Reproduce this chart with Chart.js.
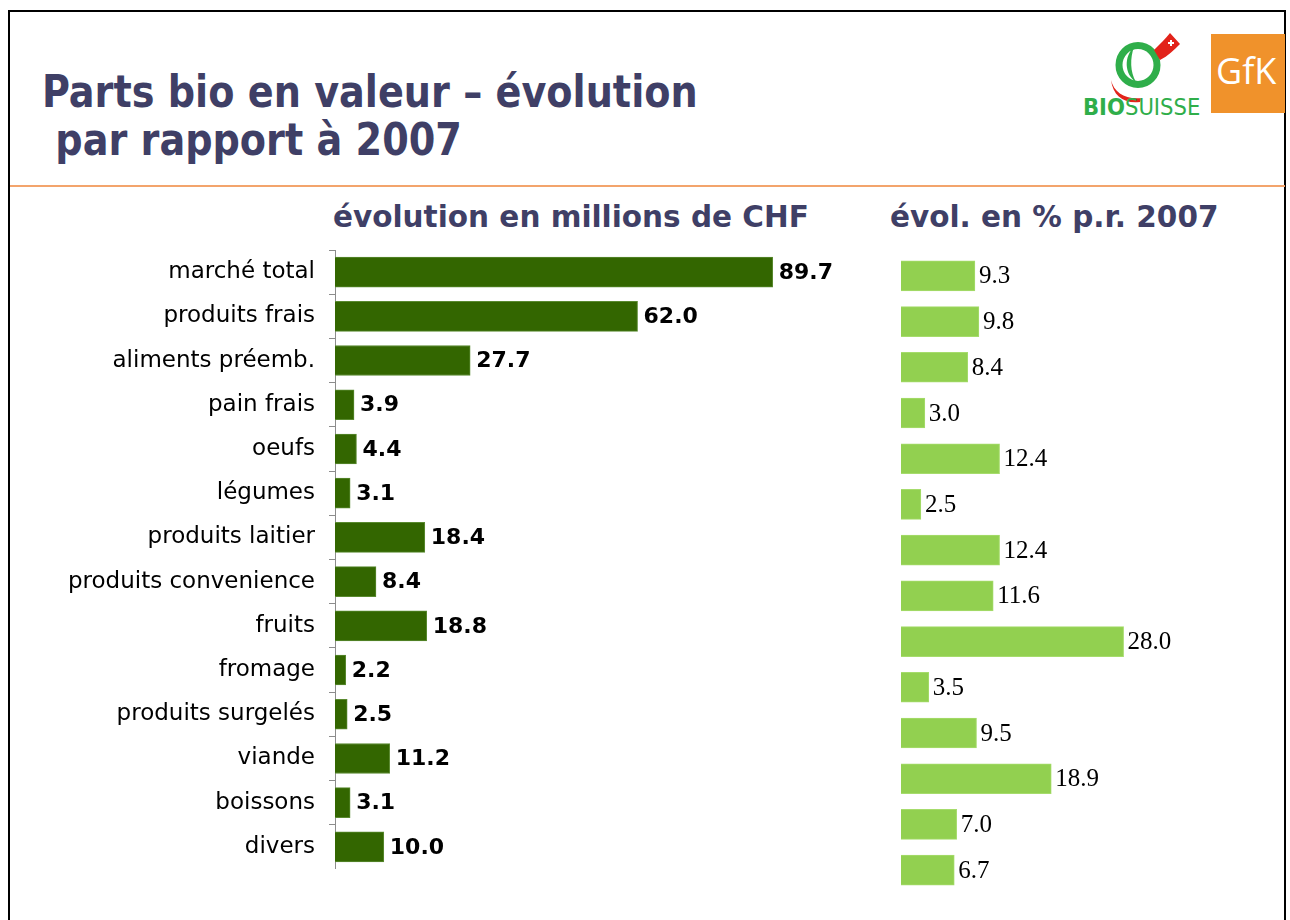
<!DOCTYPE html>
<html>
<head>
<meta charset="utf-8">
<script src="https://cdn.jsdelivr.net/npm/chart.js@4.4.0/dist/chart.umd.min.js"></script>
<style>
  body { margin: 0; background: #fff; }
  #page { position: relative; width: 1290px; height: 920px; overflow: hidden; background: #fff; }
  #frame { position: absolute; left: 8px; top: 10px; width: 1278px; height: 940px;
    border: 2px solid #000; box-sizing: border-box; }
  #rule { position: absolute; left: 10px; top: 185px; width: 1275px; height: 2px; background: #f3a46c; }
  .title { position: absolute; font-family: "DejaVu Sans"; font-weight: bold;
    color: #3f3f66; white-space: pre; line-height: 1; }
  .big { font-family: "DejaVu Sans Condensed", "DejaVu Sans"; font-size: 44px;
    transform: scaleX(0.965); transform-origin: 0 0; }
  .sub { font-size: 29.5px; }
  #gfk { position: absolute; left: 1211px; top: 34px; width: 74px; height: 79px; background: #f0922b;
    color: #fff; font-family: "Open Sans"; font-size: 36px; line-height: 1; }
  #gfk span { position: absolute; left: 5px; top: 19px; }
  #bio { position: absolute; left: 1080px; top: 30px; }
  canvas { position: absolute; }
</style>
</head>
<body>
<div id="page">
  <div id="frame"></div>
  <div class="title big" style="left:42px; top:70px;">Parts bio en valeur – évolution</div>
  <div class="title big" style="left:42px; top:118px;"> par rapport à 2007</div>
  <div id="rule"></div>

  <svg id="bio" width="125" height="92" viewBox="0 0 125 92">
    <path d="M31 50 C34 63 46 70 62 68 L60 72 C44 74 33 66 31 50 Z" fill="#e2231a"/>
    <ellipse cx="58" cy="35" rx="19" ry="19.5" fill="none" stroke="#2fae4a" stroke-width="7"/>
    <path d="M54 17 C44 26 44 44 56 52 C50 42 50 28 54 17 Z" fill="#2fae4a"/>
    <path d="M74 20 C80 14 86 8 90 3 L100 14 C94 20 88 26 80 30 Z" fill="#e2231a"/>
    <path d="M88 13 h6 M91 10 v6" stroke="#fff" stroke-width="2"/>
    <text x="3" y="85" font-family="DejaVu Sans Condensed" font-size="23.5" fill="#2fae4a"><tspan font-weight="bold">BIO</tspan>SUISSE</text>
  </svg>
  <div id="gfk"><span>GfK</span></div>

  <div class="title sub" style="left:333px; top:203px;">évolution en millions de CHF</div>
  <div class="title sub" style="left:890px; top:203px;">évol. en % p.r. 2007</div>

  <canvas id="chf" width="880" height="619" style="left:0px; top:250px;"></canvas>
  <canvas id="pct" width="410" height="640" style="left:880px; top:253px;"></canvas>
</div>

<script>
const categories = ['marché total', 'produits frais', 'aliments préemb.', 'pain frais', 'oeufs',
  'légumes', 'produits laitier', 'produits convenience', 'fruits', 'fromage',
  'produits surgelés', 'viande', 'boissons', 'divers'];
// évolution en millions de CHF
const evolChf = [89.7, 62.0, 27.7, 3.9, 4.4, 3.1, 18.4, 8.4, 18.8, 2.2, 2.5, 11.2, 3.1, 10.0];
// évolution en % par rapport à 2007
const evolPct = [9.3, 9.8, 8.4, 3.0, 12.4, 2.5, 12.4, 11.6, 28.0, 3.5, 9.5, 18.9, 7.0, 6.7];

// draws the value right of each bar end
const valueLabels = {
  id: 'valueLabels',
  afterDatasetsDraw(chart, args, opts) {
    const ctx = chart.ctx;
    const data = chart.data.datasets[0].data;
    ctx.save();
    ctx.font = opts.font;
    ctx.fillStyle = '#000';
    ctx.textAlign = 'left';
    ctx.textBaseline = 'middle';
    chart.getDatasetMeta(0).data.forEach(function (bar, i) {
      ctx.fillText(data[i].toFixed(1), bar.x + opts.gap, bar.y + 1);
    });
    ctx.restore();
  }
};

Chart.defaults.animation = false;

new Chart(document.getElementById('chf'), {
  type: 'bar',
  data: {
    labels: categories,
    datasets: [{
      data: evolChf,
      backgroundColor: '#336600',
      borderColor: '#5a8a30',
      borderWidth: 1,
      barThickness: 30
    }]
  },
  options: {
    indexAxis: 'y',
    responsive: false,
    layout: { padding: { left: 0, right: 57, top: 0, bottom: 0 } },
    scales: {
      x: { display: false, min: 0, max: 100 },
      y: {
        afterFit: function (scale) {
          scale.width = 335;
          scale.paddingTop = 0;
          scale.paddingBottom = 0;
        },
        border: { display: true, color: '#8c8c8c', width: 1 },
        grid: { drawOnChartArea: false, drawTicks: true, tickLength: 6, color: '#8c8c8c', offset: true },
        ticks: { color: '#000', padding: 14, font: { family: 'DejaVu Sans', size: 23 } }
      }
    },
    plugins: {
      legend: { display: false },
      tooltip: { enabled: false },
      valueLabels: { font: 'bold 22px "DejaVu Sans"', gap: 6 }
    }
  },
  plugins: [valueLabels]
});

new Chart(document.getElementById('pct'), {
  type: 'bar',
  data: {
    labels: categories,
    datasets: [{
      data: evolPct,
      backgroundColor: '#92d050',
      borderColor: '#a6dc6c',
      borderWidth: 1,
      barThickness: 30
    }]
  },
  options: {
    indexAxis: 'y',
    responsive: false,
    layout: { padding: { left: 21, right: 71, top: 0, bottom: 0 } },
    scales: {
      x: { display: false, min: 0, max: 40 },
      y: { display: false }
    },
    plugins: {
      legend: { display: false },
      tooltip: { enabled: false },
      valueLabels: { font: '25px "Liberation Serif"', gap: 4 }
    }
  },
  plugins: [valueLabels]
});
</script>
</body>
</html>
